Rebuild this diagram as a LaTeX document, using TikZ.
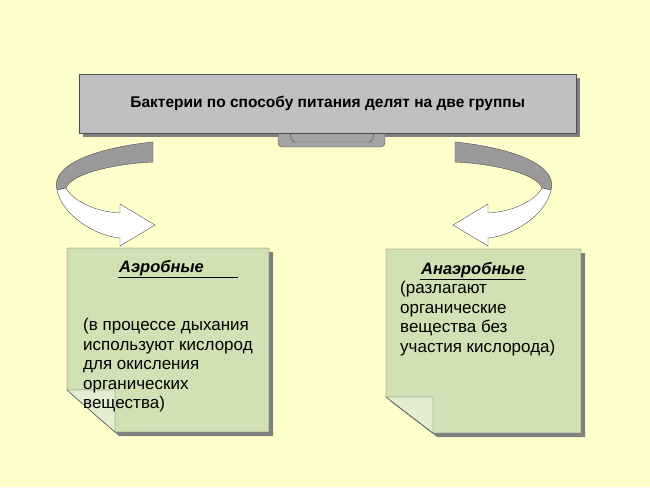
\documentclass[tikz,border=0pt]{standalone}
\usepackage{fontspec}
\setmainfont{Liberation Sans}
\definecolor{bgyellow}{RGB}{255,255,204}
\definecolor{boxgray}{RGB}{192,192,192}
\definecolor{shadowgray}{RGB}{128,128,128}
\definecolor{notegreen}{RGB}{208,225,180}
\tikzset{
  note/.style={draw=black!70,fill=notegreen},
  fold/.style={draw=black!70,fill=notegreen!60!white},
  shadow/.style={fill=shadowgray},
  head/.style={font=\fontsize{16.5}{18}\selectfont\bfseries\itshape,inner sep=1pt},
  body/.style={anchor=north west,align=left,inner sep=0pt,font=\fontsize{17}{19.6}\selectfont}
}
\newcommand{\bendarrow}{%
  \fill[boxgray!80!black,draw=black!70] (153,142) .. controls (95,148) and (50,165) .. (57,190)
     -- (66,188) .. controls (70,175) and (110,164) .. (153,162) -- cycle;
  \filldraw[fill=white,draw=black!70] (57,190) .. controls (62,215) and (95,236) .. (120,238)
     -- (120,246) -- (155,225) -- (120,204) -- (120,213)
     .. controls (95,212) and (72,200) .. (66,188) -- cycle;
}
\begin{document}
\begin{tikzpicture}[x=1pt,y=-1pt]
  \fill[bgyellow] (0,0) rectangle (650,487);
  % title
  \fill[shadow] (83,78) rectangle (580,137);
  \fill[boxgray!85!black,draw=black!70,rounded corners=4pt] (278,128) rectangle (385,147);
  \draw[black!70,rounded corners=3pt] (290,133) -- (292,142) -- (372,142) -- (374,133);
  \node[draw=black!70,fill=boxgray,minimum width=497pt,minimum height=59pt,anchor=north west,inner sep=0pt]
     (title) at (79,74) {};
  \node[font=\fontsize{15.5}{18}\selectfont\bfseries] (titletext) at (title.center) {Бактерии по способу питания делят на две группы};
  % arrows
  \bendarrow
  \begin{scope}[xshift=608pt,xscale=-1]
    \bendarrow
  \end{scope}
  % left note
  \fill[shadow] (71,252) -- (273,252) -- (273,436) -- (119,436) -- (71,394) -- cycle;
  \filldraw[note] (67,248) -- (269,248) -- (269,432) -- (115,432) -- (67,390) -- cycle;
  \filldraw[fold] (67,390) -- (115,390) -- (115,432) -- cycle;
  \node[head,anchor=west] (aero) at (118,268) {Аэробные};
  \draw (aero.south west) -- ++(120,0);
  \node[body] (aerotext) at (83,318) {(в процессе дыхания\\используют кислород\\для окисления\\органических\\вещества)};
  % right note
  \fill[shadow] (390,253) -- (585,253) -- (585,437) -- (437,437) -- (390,401) -- cycle;
  \filldraw[note] (386,249) -- (581,249) -- (581,433) -- (433,433) -- (386,397) -- cycle;
  \filldraw[fold] (386,397) -- (433,397) -- (433,433) -- cycle;
  \node[head,anchor=west] (anaero) at (420,270) {Анаэробные};
  \draw (anaero.south west) -- (anaero.south east);
  \node[body] (anaerotext) at (400,281) {(разлагают\\органические\\вещества без\\участия кислорода)};
\end{tikzpicture}
\end{document}
